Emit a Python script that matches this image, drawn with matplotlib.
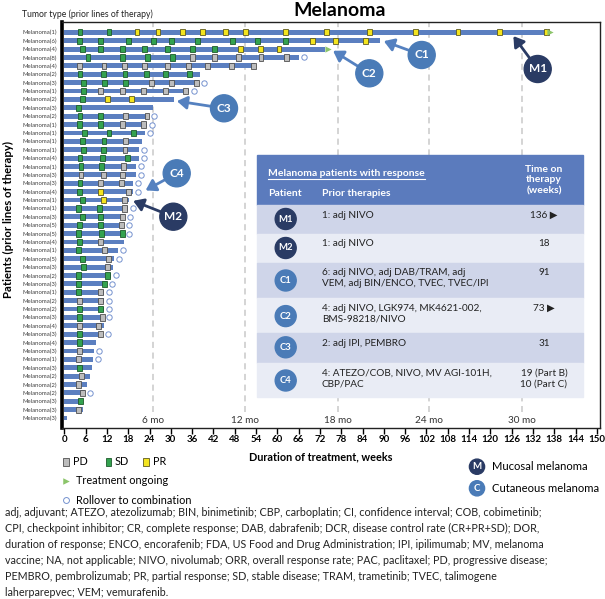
import matplotlib
matplotlib.use('Agg')
import matplotlib.pyplot as plt
from matplotlib.patches import Rectangle, Circle
from matplotlib.lines import Line2D

plt.rcParams['font.family'] = ['Lato', 'DejaVu Sans']

# ---------------- data ----------------
prior_lines = [1, 6, 4, 8, 4, 2, 3, 1, 2, 3, 2, 1, 1, 1, 1, 4, 1, 3, 3, 4,
               1, 1, 3, 5, 5, 4, 1, 5, 3, 2, 3, 1, 2, 2, 3, 4, 3, 4, 3, 1,
               3, 2, 2, 2, 3, 3, 3]
tick_labels = [f"Melanoma({n})" for n in prior_lines]

duration = [136, 89, 73.5, 66, 53.8, 38.2, 37.9, 35, 30.9, 25,
             23.9, 23.2, 22.7, 21.8, 21.0, 21.1, 20.2, 20.2, 19.3, 19.3,
             18.1, 17.9, 17.1, 16.9, 16.9, 16.9, 15.2, 14.1, 13.6, 13.2,
             11.9, 11.1, 11.1, 11.1, 11.1, 11.2, 10.8, 8.8, 8.4, 8.0,
             7.8, 7.2, 6.3, 5.9, 5.2, 5.2, 0.7]

sd_weeks = [[4.4, 12.6], [4.2, 10.1, 18.0, 25.2, 30.3, 37.5, 47.3, 54.4, 62.4],
            [5.1, 10.3, 16.3, 22.5, 29.1, 36.1, 42.4], [6.7, 16.4, 23.5, 30.4], [],
            [4.4, 11.0, 17.1, 23.2, 28.6, 35.2], [5.4, 11.3, 17.3], [5.4], [5.1], [4.1],
            [4.4, 10.3], [4.2, 10.1], [5.6, 12.6, 19.5], [5.2, 11.2], [5.4, 11.0],
            [4.4, 10.8, 17.9], [4.7, 10.5], [], [4.4], [4.2],
            [5.2], [4.1, 9.9], [5.1, 10.1], [4.2, 10.1], [4.1, 10.4, 16.3],
            [4.3], [4.1], [5.2], [5.4], [4.1, 12.2],
            [4.1, 11.4], [4.1], [], [4.3, 10.2], [4.3],
            [], [4.3], [4.3], [], [],
            [4.3], [], [], [], [4.5], [], []]

pd_weeks = [[], [], [], [36.2, 42.3, 49.1, 55.4, 62.5],
            [4.2, 11.2, 17.0, 22.5, 29.1, 35.0, 40.3, 47.0, 53.2],
            [], [24.5, 30.3, 37.3], [10.3, 16.3, 22.4, 28.6, 34.1], [], [],
            [17.2, 23.3], [16.3, 22.2], [], [17.3], [17.1],
            [], [16.6], [4.7, 11.0, 16.3], [10.3, 16.1], [18.1],
            [16.9], [17.0], [16.3], [16.1], [],
            [10.3], [11.3], [12.5], [12.1], [],
            [], [10.1], [4.3, 10.2], [], [10.7],
            [4.2, 9.6], [10.1], [], [4.3], [4.1],
            [], [4.8], [4.1], [5.1], [], [4.1], []]

pr_weeks = [[20.5, 26.4, 33.4, 39.0, 45.4, 51.1, 62.4, 73.9, 85.9, 99.0, 110.9, 122.7, 135.9],
            [69.9, 76.3, 84.8], [49.7, 55.2, 60.5], [], [], [], [], [], [12.2, 19.0], [],
            [], [], [], [], [], [], [], [], [], [10.1],
            [11.0], [], [], [], [], [], [], [], [], [],
            [], [], [], [], [], [], [], [], [], [],
            [], [], [], [], [], [], []]

ongoing = [0, 2]
rollover = [3, 6, 7, 10, 11, 12, 14, 15, 16, 17, 18, 19, 21, 22, 23, 24,
            26, 27, 29, 30, 31, 32, 33, 34, 36, 38, 39, 43]

month_labels = ["6 mo", "12 mo", "18 mo", "24 mo", "30 mo"]
month_weeks = [24.9, 51.0, 77.2, 102.8, 128.9]

resp_ids = ['M1', 'M2', 'C1', 'C2', 'C3', 'C4']
resp_rows = [0, 20, 1, 2, 8, 19]
resp_prior = ['1: adj NIVO', '1: adj NIVO',
              '6: adj NIVO, adj DAB/TRAM, adj\nVEM, adj BIN/ENCO, TVEC, TVEC/IPI',
              '4: adj NIVO, LGK974, MK4621-002,\nBMS-98218/NIVO',
              '2: adj IPI, PEMBRO',
              '4: ATEZO/COB, NIVO, MV AGI-101H,\nCBP/PAC']
resp_time = ['136 \u25B6', '18', '91', '73 \u25B6', '31', '19 (Part B)\n10 (Part C)']

footnote = ("adj, adjuvant; ATEZO, atezolizumab; BIN, binimetinib; CBP, carboplatin; CI, confidence interval; COB, cobimetinib;\n"
            "CPI, checkpoint inhibitor; CR, complete response; DAB, dabrafenib; DCR, disease control rate (CR+PR+SD); DOR,\n"
            "duration of response; ENCO, encorafenib; FDA, US Food and Drug Administration; IPI, ipilimumab; MV, melanoma\n"
            "vaccine; NA, not applicable; NIVO, nivolumab; ORR, overall response rate; PAC, paclitaxel; PD, progressive disease;\n"
            "PEMBRO, pembrolizumab; PR, partial response; SD, stable disease; TRAM, trametinib; TVEC, talimogene\n"
            "laherparepvec; VEM; vemurafenib.")

# ---------------- style ----------------
BAR = '#5b7fc0'
C_PD, E_PD = '#bdbdbd', '#505050'
C_SD, E_SD = '#33a24f', '#1f5a2b'
C_PR, E_PR = '#f3e41f', '#5e5a20'
TRI = '#8cc56a'
ROLL = '#7592cf'
NAVY = '#2a3b64'
CBLUE = '#4a7bb7'
CARROW = '#5581c0'
HEAD = '#5b7bbd'
ROW_D = '#cfd5e9'
ROW_L = '#e9ecf5'

W, H = 605, 599
fig = plt.figure(figsize=(W / 100, H / 100), dpi=100)
ax = fig.add_axes([62 / W, 1 - 428 / H, (600 - 62) / W, (428 - 22) / H])

rows = list(range(len(duration)))
ax.barh(rows, duration, height=0.58, left=0, color=BAR, zorder=2)

def status_bars(weeks, fc, ec):
    xs, ys = [], []
    for r, lst in enumerate(weeks):
        for w in lst:
            xs.append(w)
            ys.append(r)
    ax.bar(xs, 0.74, width=1.35, bottom=[y - 0.37 for y in ys], align='center',
           color=fc, edgecolor=ec, linewidth=0.6, zorder=3)

status_bars(pd_weeks, C_PD, E_PD)
status_bars(sd_weeks, C_SD, E_SD)
status_bars(pr_weeks, C_PR, E_PR)

ax.scatter([duration[r] + 0.9 for r in ongoing], ongoing, marker='>', s=20,
           color=TRI, zorder=4, linewidths=0)
ax.scatter([duration[r] + 1.4 for r in rollover], rollover, marker='o', s=15,
           facecolor='white', edgecolor=ROLL, linewidths=0.7, zorder=4)

ax.vlines(month_weeks, -1.3, 45.3, colors='#c9c9c9', linestyles=(0, (4, 3)),
          linewidth=1.1, zorder=1)
for w, lab in zip(month_weeks, month_labels):
    ax.text(w, 46.3, lab, ha='center', va='center', fontsize=7.2, color='#333333')

ax.set_xlim(-0.65, 150.9)
ax.set_ylim(47.19, -1.23)
ax.set_xticks(range(0, 151, 6))
ax.set_xticklabels([str(v) for v in range(0, 151, 6)], fontsize=7, fontweight='bold')
ax.tick_params(axis='x', direction='out', length=4, width=1, pad=1)
ax.set_yticks(rows)
ax.set_yticklabels(tick_labels, fontsize=4.3, color='#404040')
ax.tick_params(axis='y', length=0, pad=3.5)
for s in ['top', 'right', 'bottom']:
    ax.spines[s].set_linewidth(1.0)
    ax.spines[s].set_color('#222222')
ax.spines['left'].set_linewidth(2.6)
ax.spines['left'].set_color('black')

# ---------------- overlay in pixel coords ----------------
ov = fig.add_axes([0, 0, 1, 1], zorder=5)
ov.set_xlim(0, W)
ov.set_ylim(H, 0)
ov.axis('off')

ov.text(340, 11, 'Melanoma', ha='center', va='center', fontsize=14, fontweight='bold')
ov.text(22, 14, 'Tumor type (prior lines of therapy)', ha='left', va='center',
        fontsize=6.2, color='#222222')
ov.text(8, 220, 'Patients (prior lines of therapy)', ha='center', va='center',
        rotation=90, fontsize=8.2, fontweight='bold')
ov.text(321, 457, 'Duration of treatment, weeks', ha='center', va='center',
        fontsize=7.8, fontweight='bold')

# badges + arrows on the chart
badge_pos = {'M1': (537.7, 69), 'C1': (421.7, 55), 'C2': (369.3, 73.3),
             'C3': (224, 108.3), 'C4': (176.7, 173.3), 'M2': (173.3, 216.7)}
arrow_tip = {'M1': (126.5, resp_rows[0] + 0.45),
             'M2': (duration[20] + 1.3, 20.1),
             'C1': (duration[1] + 1.0, 1.05),
             'C2': (duration[2] + 2.2, 2.2),
             'C3': (duration[8] + 0.8, 8.2),
             'C4': (duration[19] + 3.6, 18.85)}
for pid in resp_ids:
    col = NAVY if pid.startswith('M') else CBLUE
    acol = NAVY if pid.startswith('M') else CARROW
    bx, by = badge_pos[pid]
    ax.annotate('', xy=arrow_tip[pid], xycoords='data', xytext=(bx, by),
                textcoords=ov.transData,
                arrowprops=dict(arrowstyle='-|>,head_length=0.5,head_width=0.32',
                                color=acol, lw=2.0, mutation_scale=12,
                                shrinkA=0, shrinkB=0), zorder=6, annotation_clip=False)
    ov.add_patch(Circle((bx, by), 13.5, color=col, zorder=7))
    ov.text(bx, by, pid, ha='center', va='center', color='white', fontsize=8.5,
            fontweight='bold', zorder=8)

# ---------------- table ----------------
tx0, tx1 = 256.7, 583.3
ov.add_patch(Rectangle((tx0, 155), tx1 - tx0, 50, color=HEAD, zorder=2))
row_edges = [205, 234, 262.7, 298.3, 333.3, 362.7, 397.3]
for i in range(6):
    ov.add_patch(Rectangle((tx0, row_edges[i]), tx1 - tx0, row_edges[i + 1] - row_edges[i],
                           color=ROW_D if i % 2 == 0 else ROW_L, zorder=2))
hdr = ov.text(268, 173, 'Melanoma patients with response', ha='left', va='center',
              color='white', fontsize=7.5, fontweight='bold', zorder=3)
ov.text(268, 194, 'Patient', ha='left', va='center', color='white', fontsize=7.5,
        fontweight='bold', zorder=3)
ov.text(322, 194, 'Prior therapies', ha='left', va='center', color='white', fontsize=7.5,
        fontweight='bold', zorder=3)
ov.text(544, 180, 'Time on\ntherapy\n(weeks)', ha='center', va='center', color='white',
        fontsize=7.5, fontweight='bold', linespacing=1.25, zorder=3)

for i, pid in enumerate(resp_ids):
    top = row_edges[i]
    col = NAVY if pid.startswith('M') else CBLUE
    nlines = resp_prior[i].count('\n') + 1
    cy = top + 11.5 + (6.3 if nlines == 2 else 2.5)
    ov.add_patch(Circle((285.7, cy), 10.5, color=col, zorder=3))
    ov.text(285.7, cy, pid, ha='center', va='center', color='white', fontsize=6.8,
            fontweight='bold', zorder=4)
    ov.text(322, top + 5.5, resp_prior[i], ha='left', va='top', fontsize=7.2,
            color='#222222', linespacing=1.3, zorder=4)
    ov.text(544, top + 5.5, resp_time[i], ha='center', va='top', fontsize=7.2,
            color='#222222', linespacing=1.3, zorder=4)

# ---------------- legends ----------------
leg = [('PD', C_PD, E_PD, 63), ('SD', C_SD, E_SD, 105.5), ('PR', C_PR, E_PR, 143)]
for lab, fc, ec, x in leg:
    ov.add_patch(Rectangle((x, 457.5), 5.5, 8.5, facecolor=fc, edgecolor=ec, lw=0.6))
    ov.text(x + 9.5, 461.7, lab, ha='left', va='center', fontsize=7.8)
ov.scatter([66], [481], marker='>', s=22, color=TRI, linewidths=0)
ov.text(75.5, 481, 'Treatment ongoing', ha='left', va='center', fontsize=7.8)
ov.scatter([66], [500], marker='o', s=18, facecolor='white', edgecolor=ROLL, linewidths=0.7)
ov.text(76.5, 500, 'Rollover to combination', ha='left', va='center', fontsize=7.8)

for (lab, txt, col, y) in [('M', 'Mucosal melanoma', NAVY, 466.7), ('C', 'Cutaneous melanoma', CBLUE, 488.3)]:
    ov.add_patch(Circle((477, y), 7.6, color=col))
    ov.text(477, y, lab, ha='center', va='center', color='white', fontsize=7,
            fontweight='bold')
    ov.text(491.5, y, txt, ha='left', va='center', fontsize=8.1)

ov.text(5, 506.5, footnote, ha='left', va='top', fontsize=7.75, color='#222222',
        linespacing=1.56)

# underline of table title
fig.canvas.draw()
bb = hdr.get_window_extent()
inv = ov.transData.inverted()
(x0, y0), (x1, y1) = inv.transform([(bb.x0, bb.y0), (bb.x1, bb.y1)])
ov.add_line(Line2D([x0, x1], [max(y0, y1) + 1, max(y0, y1) + 1], color='white', lw=0.8, zorder=3))

fig.savefig('out.png', dpi=100)
